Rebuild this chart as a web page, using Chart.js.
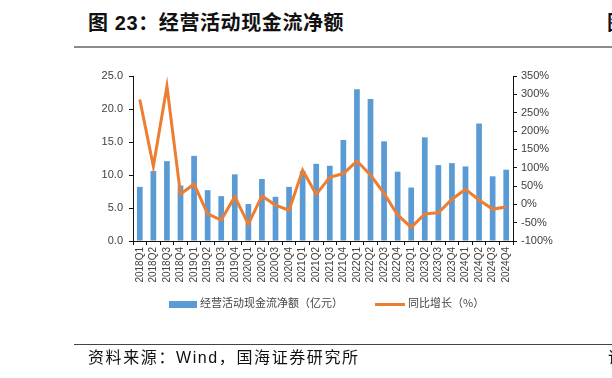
<!DOCTYPE html>
<html>
<head>
<meta charset="utf-8">
<script src="https://cdn.jsdelivr.net/npm/chart.js@4.4.1/dist/chart.umd.min.js"></script>
<style>
  html, body { margin: 0; padding: 0; background: #fff; }
  #page { position: relative; width: 612px; height: 378px; overflow: hidden; font-family: "Liberation Sans", "Noto Sans CJK SC", sans-serif; }
  #chart { position: absolute; left: 0; top: 0; }
  .title { position: absolute; left: 88px; top: 7px; font: bold 20px "Liberation Sans", "Noto Sans CJK SC", sans-serif; letter-spacing: 0.6px; color: #111; white-space: nowrap; }
  .rule-top { position: absolute; left: 74px; top: 46px; width: 560px; height: 2px; background: #8c8c8c; }
  .rule-bot { position: absolute; left: 74px; top: 344px; width: 560px; height: 1px; background: #444; }
  .source { position: absolute; left: 88px; top: 344px; font: 16px "Liberation Sans", "Noto Sans CJK SC", sans-serif; letter-spacing: 1.6px; color: #111; white-space: nowrap; }
  .edge { position: absolute; left: 607px; font: bold 20px "Noto Sans CJK SC", sans-serif; color: #111; }
  .legend { position: absolute; top: 294px; font: 11px "Noto Sans CJK SC", sans-serif; color: #444; white-space: nowrap; }
  .legend span.sw { display: inline-block; vertical-align: middle; margin-right: 3px; }
</style>
</head>
<body>
<div id="page">
  <div class="title">图 23：经营活动现金流净额</div>
  <div class="rule-top"></div>
  <div class="edge" style="top:7px">图</div>
  <canvas id="chart" width="612" height="378"></canvas>
  <div class="legend" style="left:169px"><span class="sw" style="width:28px;height:7px;background:#5b9bd5"></span>经营活动现金流净额（亿元）</div>
  <div class="legend" style="left:375px"><span class="sw" style="width:30px;height:3px;background:#ed7d31"></span>同比增长（%）</div>
  <div class="rule-bot"></div>
  <div class="source">资料来源：Wind，国海证券研究所</div>
  <div class="edge" style="top:344px;left:608px;font-weight:normal;font-size:16px">请</div>
</div>
<script>
const QUARTERS = [
  '2018Q1','2018Q2','2018Q3','2018Q4','2019Q1','2019Q2','2019Q3','2019Q4',
  '2020Q1','2020Q2','2020Q3','2020Q4','2021Q1','2021Q2','2021Q3','2021Q4',
  '2022Q1','2022Q2','2022Q3','2022Q4','2023Q1','2023Q2','2023Q3','2023Q4',
  '2024Q1','2024Q2','2024Q3','2024Q4'
];
// 经营活动现金流净额（亿元）
const NET_CASH = [
  8.2, 10.6, 12.1, 8.4, 12.9, 7.7, 6.8, 10.1,
  5.6, 9.4, 6.7, 8.2, 10.6, 11.7, 11.4, 15.3,
  23.0, 21.5, 15.1, 10.5, 8.1, 15.7, 11.5, 11.8,
  11.3, 17.8, 9.8, 10.8
];
// 同比增长（%）
const YOY = [
  286, 104, 322, 28, 55, -26, -43, 21,
  -54, 23, -2, -16, 93, 27, 74, 84,
  118, 80, 30, -29, -63, -26, -23, 14,
  41, 12, -13, -7
];
const LEFT_TICKS = { min: 0, max: 25, step: 5 };
const RIGHT_TICKS = { min: -100, max: 350, step: 50 };

const BAR_COLOR = '#5b9bd5';
const LINE_COLOR = '#ed7d31';
const TICK_COLOR = '#404040';
const AXIS_COLOR = '#111';

new Chart(document.getElementById('chart'), {
  type: 'bar',
  data: {
    labels: QUARTERS,
    datasets: [
      {
        type: 'line', label: '同比增长（%）', data: YOY, yAxisID: 'y1',
        borderColor: LINE_COLOR, backgroundColor: LINE_COLOR, borderWidth: 3,
        pointRadius: 0, tension: 0, order: 0,
      },
      {
        type: 'bar', label: '经营活动现金流净额（亿元）', data: NET_CASH, yAxisID: 'y',
        backgroundColor: BAR_COLOR, barPercentage: 0.42, categoryPercentage: 1, order: 1,
      },
    ],
  },
  options: {
    responsive: false,
    animation: false,
    layout: { padding: { top: 76, bottom: 87, left: 0, right: 0 } },
    plugins: { legend: { display: false }, tooltip: { enabled: false } },
    scales: {
      x: {
        grid: { display: true, drawOnChartArea: false, offset: true, color: AXIS_COLOR, tickLength: 4 },
        border: { color: AXIS_COLOR, width: 1 },
        ticks: { color: TICK_COLOR, font: { size: 10, family: 'Liberation Sans' }, minRotation: 90, maxRotation: 90, autoSkip: false, padding: 2 },
        afterFit(s) { s.height = 50; },
      },
      y: {
        position: 'left',
        min: LEFT_TICKS.min, max: LEFT_TICKS.max,
        grid: { display: true, drawOnChartArea: false, color: AXIS_COLOR, tickLength: 4 },
        border: { color: AXIS_COLOR, width: 1 },
        ticks: { stepSize: LEFT_TICKS.step, color: TICK_COLOR, font: { size: 11, family: 'Liberation Sans' }, padding: 6, callback: v => v.toFixed(1) },
        afterFit(s) { s.width = 133; },
      },
      y1: {
        position: 'right',
        min: RIGHT_TICKS.min, max: RIGHT_TICKS.max,
        grid: { display: true, drawOnChartArea: false, color: AXIS_COLOR, tickLength: 4 },
        border: { color: AXIS_COLOR, width: 1 },
        ticks: { stepSize: RIGHT_TICKS.step, color: TICK_COLOR, font: { size: 11, family: 'Liberation Sans' }, padding: 4, callback: v => v + '%' },
        afterFit(s) { s.width = 99; },
      },
    },
  },
});
</script>
</body>
</html>
